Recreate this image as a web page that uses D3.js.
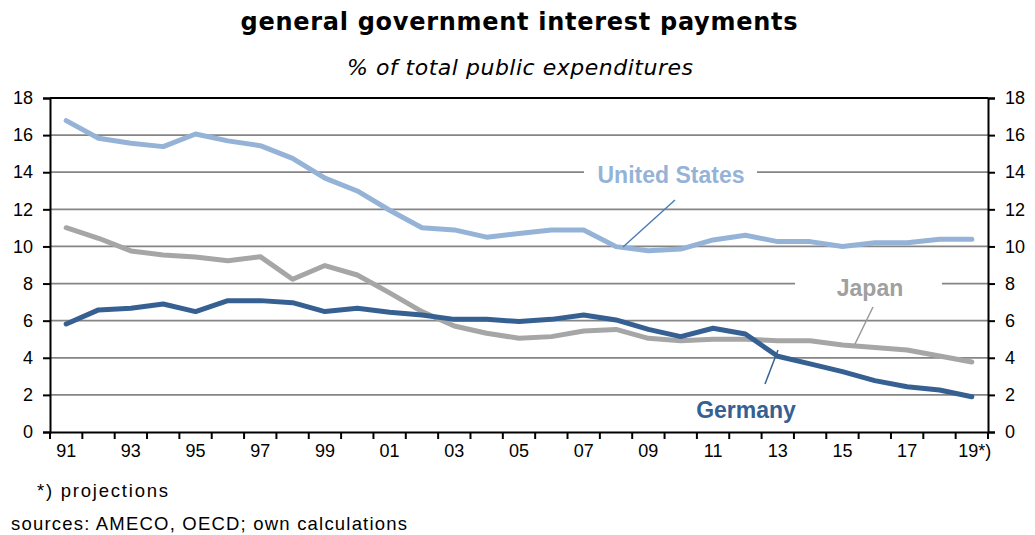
<!DOCTYPE html>
<html>
<head>
<meta charset="utf-8">
<script src="https://cdn.jsdelivr.net/npm/d3@7"></script>
<style>
  body { margin: 0; background: #fff; }
  svg { display: block; }
  .tick text { font-family: "Liberation Sans", Arial, sans-serif; font-size: 18px; fill: #000; }
</style>
</head>
<body>
<svg id="chart" width="1035" height="535"></svg>
<script>
// years on the x axis, "19*)" = projection
const years = ["91","92","93","94","95","96","97","98","99","00","01","02","03","04","05",
               "06","07","08","09","10","11","12","13","14","15","16","17","18","19"];

const unitedStates = [16.78, 15.83, 15.56, 15.38, 16.06, 15.69, 15.43, 14.75, 13.68, 12.99,
                      11.95, 11.01, 10.89, 10.5, 10.7, 10.89, 10.89, 9.99, 9.77, 9.86,
                      10.35, 10.6, 10.26, 10.26, 10.0, 10.2, 10.2, 10.39, 10.39];
const japan = [11.01, 10.44, 9.76, 9.54, 9.43, 9.23, 9.45, 8.23, 8.97, 8.46,
               7.5, 6.49, 5.71, 5.32, 5.05, 5.14, 5.44, 5.53, 5.05, 4.92,
               5.0, 5.0, 4.92, 4.92, 4.69, 4.56, 4.42, 4.1, 3.77];
const germany = [5.82, 6.58, 6.67, 6.9, 6.49, 7.08, 7.08, 6.97, 6.49, 6.67,
                 6.45, 6.31, 6.07, 6.07, 5.95, 6.07, 6.31, 6.04, 5.53, 5.14,
                 5.59, 5.28, 4.08, 3.67, 3.25, 2.77, 2.44, 2.26, 1.9];

const yTicks = [0, 2, 4, 6, 8, 10, 12, 14, 16, 18];

const svg = d3.select("#chart");
const plot = { left: 50, right: 988, top: 98, bottom: 432 };

const x = d3.scaleBand().domain(years).range([plot.left, plot.right]);
const y = d3.scaleLinear().domain([0, 18]).range([plot.bottom, plot.top]);

// titles
svg.append("text")
    .attr("x", 519).attr("y", 30)
    .attr("text-anchor", "middle")
    .attr("textLength", 557).attr("lengthAdjust", "spacing")
    .style("font-family", "DejaVu Sans, Verdana, sans-serif")
    .style("font-weight", "bold")
    .style("font-size", "24px")
    .text("general government interest payments");

svg.append("text")
    .attr("x", 520).attr("y", 75)
    .attr("text-anchor", "middle")
    .attr("textLength", 346).attr("lengthAdjust", "spacing")
    .style("font-family", "DejaVu Sans, Verdana, sans-serif")
    .style("font-style", "italic")
    .style("font-size", "22px")
    .text("% of total public expenditures");

// gridlines
svg.append("g")
    .selectAll("line")
    .data(yTicks.filter(d => d > 0 && d < 18))
    .join("line")
    .attr("x1", plot.left).attr("x2", plot.right)
    .attr("y1", d => y(d)).attr("y2", d => y(d))
    .attr("stroke", "#858585").attr("stroke-width", 1.7);

// top border
svg.append("line")
    .attr("x1", plot.left).attr("x2", plot.right)
    .attr("y1", y(18)).attr("y2", y(18))
    .attr("stroke", "#000").attr("stroke-width", 2);

// axes
const yLeft = svg.append("g")
    .attr("transform", `translate(${plot.left},0)`)
    .call(d3.axisLeft(y).tickValues(yTicks).tickSize(7).tickPadding(10));
const yRight = svg.append("g")
    .attr("transform", `translate(${plot.right},0)`)
    .call(d3.axisRight(y).tickValues(yTicks).tickSize(7).tickPadding(10));

const xAxis = svg.append("g")
    .attr("transform", `translate(0,${plot.bottom})`)
    .call(d3.axisBottom(x).tickSize(0).tickPadding(12)
        .tickFormat((d, i) => i % 2 === 0 ? (d === "19" ? "19*)" : d) : ""));

// boundary ticks between categories
svg.append("g")
    .selectAll("line")
    .data(d3.range(years.length + 1))
    .join("line")
    .attr("x1", i => plot.left + i * x.step()).attr("x2", i => plot.left + i * x.step())
    .attr("y1", plot.bottom).attr("y2", plot.bottom + 7)
    .attr("stroke", "#000").attr("stroke-width", 2);

[yLeft, yRight, xAxis].forEach(g => {
    g.select(".domain").attr("stroke", "#000").attr("stroke-width", 2);
    g.selectAll(".tick line").attr("stroke", "#000").attr("stroke-width", 2);
    g.attr("font-family", null).attr("font-size", null);
});
xAxis.selectAll(".tick text").attr("dx", (d) => d === "19" ? 3 : 0);

// series labels (white box cuts the gridline)
const labels = [
    { text: "United States", x: 671, y: 183, color: "#95B3D7", gap: [584, 757] },
    { text: "Japan", x: 870, y: 296, color: "#A0A0A0", gap: [795, 942] },
    { text: "Germany", x: 746, y: 418, color: "#366092", gap: null }
];
labels.forEach(l => {
    if (l.gap) {
        svg.append("rect")
            .attr("x", l.gap[0]).attr("width", l.gap[1] - l.gap[0])
            .attr("y", l.y - 22).attr("height", 28)
            .attr("fill", "#fff");
    }
    svg.append("text")
        .attr("x", l.x).attr("y", l.y)
        .attr("text-anchor", "middle")
        .style("font-family", "Liberation Sans, Arial, sans-serif")
        .style("font-weight", "bold")
        .style("font-size", "23px")
        .attr("fill", l.color)
        .text(l.text);
});

// data lines
const line = d3.line()
    .x((d, i) => x(years[i]) + x.bandwidth() / 2)
    .y(d => y(d));

const series = [
    { values: japan, color: "#A6A6A6", width: 5 },
    { values: unitedStates, color: "#95B3D7", width: 5 },
    { values: germany, color: "#376092", width: 5 }
];
series.forEach(s => {
    svg.append("path")
        .datum(s.values)
        .attr("d", line)
        .attr("fill", "none")
        .attr("stroke", s.color)
        .attr("stroke-width", s.width)
        .attr("stroke-linejoin", "round")
        .attr("stroke-linecap", "round");
});

// leader lines
const leaders = [
    { x1: 675, y1: 200, x2: 623, y2: 247, color: "#4A7EBB" },
    { x1: 873, y1: 307, x2: 855, y2: 344, color: "#999" },
    { x1: 778, y1: 350, x2: 765, y2: 384, color: "#376092" }
];
svg.append("g")
    .selectAll("line")
    .data(leaders)
    .join("line")
    .attr("x1", d => d.x1).attr("y1", d => d.y1)
    .attr("x2", d => d.x2).attr("y2", d => d.y2)
    .attr("stroke", d => d.color).attr("stroke-width", 1.5);

// footnotes
svg.append("text")
    .attr("x", 37).attr("y", 497)
    .attr("textLength", 131).attr("lengthAdjust", "spacing")
    .style("font-family", "Liberation Sans, Arial, sans-serif")
    .style("font-size", "18.5px")
    .text("*)  projections");

svg.append("text")
    .attr("x", 11).attr("y", 530)
    .attr("textLength", 396).attr("lengthAdjust", "spacing")
    .style("font-family", "Liberation Sans, Arial, sans-serif")
    .style("font-size", "18.5px")
    .text("sources: AMECO, OECD; own calculations");
</script>
</body>
</html>
